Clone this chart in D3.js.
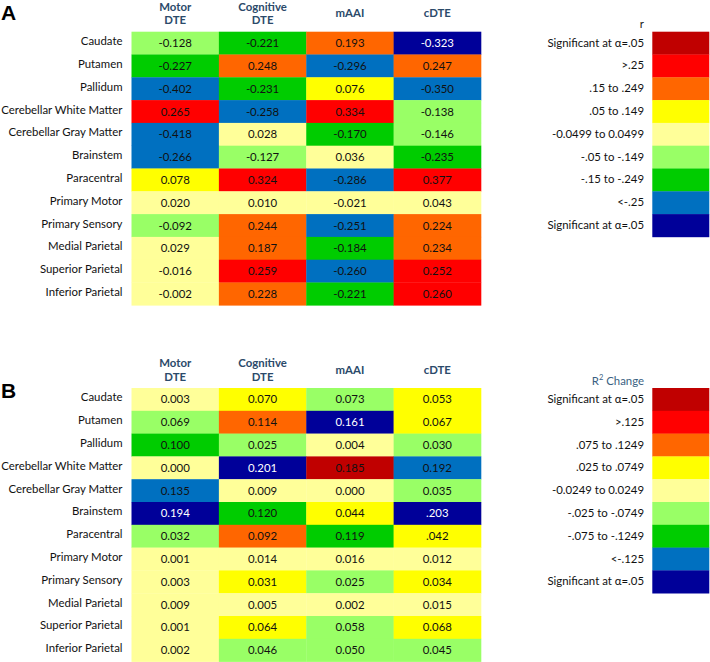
<!DOCTYPE html>
<html><head><meta charset="utf-8">
<script src="https://cdn.jsdelivr.net/npm/d3@7"></script>
<style>body{margin:0;background:#fff}svg{display:block}</style>
</head><body>
<svg id="chart" width="710" height="662"></svg>
<script>
const regions = ["Caudate","Putamen","Pallidum","Cerebellar White Matter","Cerebellar Gray Matter","Brainstem","Paracentral","Primary Motor","Primary Sensory","Medial Parietal","Superior Parietal","Inferior Parietal"];
const measures = [["Motor","DTE"],["Cognitive","DTE"],["mAAI"],["cDTE"]];
const legendColors = ["#c00000","#ff0000","#ff6600","#ffff00","#ffff99","#99ff66","#00cc00","#0070c0","#000099"];
const legendLabelsA = ["Significant at \u03b1=.05",">.25",".15 to .249",".05 to .149","-0.0499 to 0.0499","-.05 to -.149","-.15 to -.249","<-.25","Significant at \u03b1=.05"];
const legendLabelsB = ["Significant at \u03b1=.05",">.125",".075 to .1249",".025 to .0749","-0.0249 to 0.0249","-.025 to -.0749","-.075 to -.1249","<-.125","Significant at \u03b1=.05"];
// Panel A: correlation r
const valuesA = [
 ["-0.128","-0.221","0.193","-0.323"],
 ["-0.227","0.248","-0.296","0.247"],
 ["-0.402","-0.231","0.076","-0.350"],
 ["0.265","-0.258","0.334","-0.138"],
 ["-0.418","0.028","-0.170","-0.146"],
 ["-0.266","-0.127","0.036","-0.235"],
 ["0.078","0.324","-0.286","0.377"],
 ["0.020","0.010","-0.021","0.043"],
 ["-0.092","0.244","-0.251","0.224"],
 ["0.029","0.187","-0.184","0.234"],
 ["-0.016","0.259","-0.260","0.252"],
 ["-0.002","0.228","-0.221","0.260"]];
const classesA = [
 [5,6,2,8],[6,2,7,2],[7,6,3,7],[1,7,1,5],[7,4,6,5],[7,5,4,6],
 [3,1,7,1],[4,4,4,4],[5,2,7,2],[4,2,6,2],[4,1,7,1],[4,2,6,1]];
// Panel B: R^2 change
const valuesB = [
 ["0.003","0.070","0.073","0.053"],
 ["0.069","0.114","0.161","0.067"],
 ["0.100","0.025","0.004","0.030"],
 ["0.000","0.201","0.185","0.192"],
 ["0.135","0.009","0.000","0.035"],
 ["0.194","0.120","0.044",".203"],
 ["0.032","0.092","0.119",".042"],
 ["0.001","0.014","0.016","0.012"],
 ["0.003","0.031","0.025","0.034"],
 ["0.009","0.005","0.002","0.015"],
 ["0.001","0.064","0.058","0.068"],
 ["0.002","0.046","0.050","0.045"]];
const classesB = [
 [4,3,5,3],[5,2,8,3],[6,5,4,5],[4,8,0,7],[7,4,4,5],[8,6,3,8],
 [5,2,6,3],[4,4,4,4],[4,3,5,3],[4,4,4,4],[4,3,5,3],[4,5,5,5]];

const svg = d3.select("#chart");
const font = "Lato, 'Open Sans', sans-serif";
const headColor = "#2b4a6a";
const fs = 11.4;

const x = d3.scaleBand().domain(d3.range(measures.length)).range([131.5, 481]).paddingInner(0);
const legY = d3.scaleBand().domain(d3.range(legendColors.length));

function panel(top, letter, letterY, values, classes, legendTitle, legendLabels) {
  const g = svg.append("g");
  const y = d3.scaleBand().domain(d3.range(regions.length)).range([top, top + 22.8 * regions.length]);
  g.append("text").attr("x", 1).attr("y", letterY).attr("font-family", "Liberation Sans, Arial, sans-serif")
    .attr("font-weight", "bold").attr("font-size", 21).text(letter);
  // headers
  measures.forEach((m, i) => {
    const cx = x(i) + x.bandwidth() / 2;
    const t = g.append("text").attr("x", cx).attr("text-anchor", "middle")
      .attr("font-family", font).attr("font-weight", "bold").attr("font-size", 11.4).attr("fill", headColor);
    if (m.length === 2) {
      t.append("tspan").attr("x", cx).attr("y", top - 21).text(m[0]);
      t.append("tspan").attr("x", cx).attr("y", top - 7.5).text(m[1]);
    } else {
      t.attr("y", top - 14.5).text(m[0]);
    }
  });
  // row labels
  g.selectAll(".rl").data(regions).join("text")
    .attr("x", 122.5).attr("y", (d, i) => y(i) + y.bandwidth() / 2 + 2)
    .attr("text-anchor", "end").attr("font-family", font).attr("font-size", fs).attr("fill", "#111").text(d => d);
  const cells = [];
  values.forEach((row, r) => row.forEach((v, c) => cells.push({ r, c, v, k: classes[r][c] })));
  g.selectAll(".cell").data(cells).join("rect")
    .attr("x", d => x(d.c)).attr("y", d => y(d.r))
    .attr("width", x.bandwidth() + 0.3).attr("height", y.bandwidth() + 0.3)
    .attr("fill", d => legendColors[d.k]);
  g.selectAll(".val").data(cells).join("text")
    .attr("x", d => x(d.c) + x.bandwidth() / 2).attr("y", d => y(d.r) + y.bandwidth() / 2 + 4)
    .attr("text-anchor", "middle").attr("font-family", font).attr("font-size", fs)
    .attr("fill", d => d.k === 8 ? "#fff" : "#111").text(d => d.v);
  // legend
  legY.range([top, top + 22.8 * legendColors.length]);
  g.selectAll(".lg").data(legendColors).join("rect")
    .attr("x", 652.3).attr("y", (d, i) => legY(i)).attr("width", 57).attr("height", legY.bandwidth() + 0.3)
    .attr("fill", d => d);
  g.selectAll(".ll").data(legendLabels).join("text")
    .attr("x", 644).attr("y", (d, i) => legY(i) + legY.bandwidth() / 2 + 3.5)
    .attr("text-anchor", "end").attr("font-family", font).attr("font-size", fs).attr("fill", "#111").text(d => d);
  const lt = g.append("text").attr("x", 644).attr("y", top - 3.5).attr("text-anchor", "end")
    .attr("font-family", font).attr("font-size", fs).attr("fill", legendTitle.color);
  legendTitle.parts.forEach(p => {
    const s = lt.append("tspan").text(p.t);
    if (p.sup) s.attr("font-size", 7.5).attr("dy", -5); else if (p.after) s.attr("dy", 5);
  });
}

panel(31.7, "A", 20, valuesA, classesA, { color: "#222", parts: [{ t: "r" }] }, legendLabelsA);
panel(388, "B", 398, valuesB, classesB, { color: "#3a5f82", parts: [{ t: "R" }, { t: "2", sup: true }, { t: " Change", after: true }] }, legendLabelsB);
</script>
</body></html>
